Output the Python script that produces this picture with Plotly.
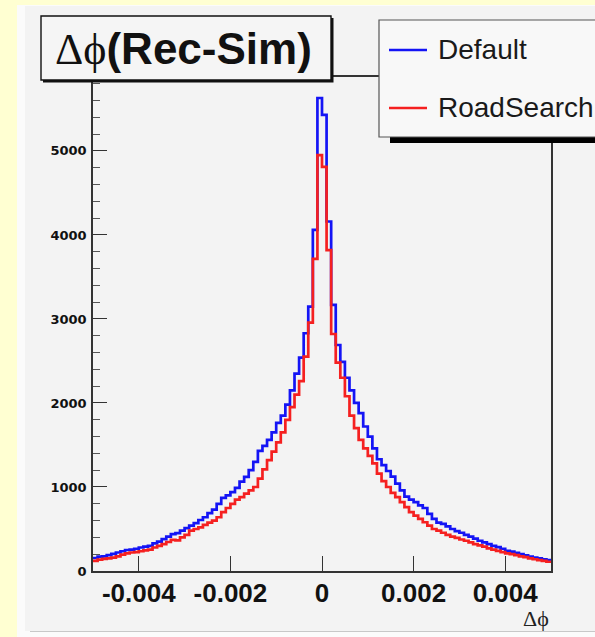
import numpy as np
import plotly.graph_objects as go

# ---------------- data ----------------
x_min, x_max = -0.005, 0.005
n_bins = 100
series_names = ["Default", "RoadSearch"]
series_colors = ["#1414F5", "#F52020"]

default_left = [155, 170, 175, 190, 205, 220, 235, 250, 255, 265,
                280, 289, 300, 330, 350, 380, 410, 440, 452, 480,
                510, 540, 570, 607, 640, 690, 730, 800, 870, 900,
                940, 990, 1063, 1120, 1200, 1300, 1430, 1490, 1560, 1650,
                1762, 1850, 1980, 2150, 2350, 2540, 2830, 3146, 4060, 5630]
default_right = [5430, 4160, 3167, 2690, 2490, 2300, 2150, 2000, 1880, 1720,
                 1599, 1460, 1330, 1260, 1190, 1123, 1040, 960, 885, 850,
                 820, 780, 750, 680, 620, 575, 560, 530, 500, 475,
                 455, 430, 410, 385, 360, 340, 320, 300, 285, 265,
                 240, 230, 215, 200, 185, 170, 160, 150, 140, 130]
road_left = [120, 135, 145, 150, 160, 175, 195, 210, 220, 225,
             235, 245, 255, 280, 300, 320, 345, 370, 365, 400,
             430, 480, 500, 520, 550, 575, 600, 640, 700, 750,
             800, 850, 880, 920, 960, 1000, 1100, 1210, 1320, 1420,
             1530, 1650, 1800, 1950, 2100, 2260, 2551, 2956, 3714, 4950]
road_right = [4810, 3820, 2821, 2480, 2300, 2080, 1850, 1700, 1560, 1460,
              1370, 1280, 1160, 1070, 1000, 930, 880, 820, 760, 700,
              660, 620, 580, 540, 500, 480, 455, 430, 410, 395,
              375, 360, 340, 320, 305, 290, 270, 255, 240, 225,
              210, 200, 190, 175, 165, 150, 140, 130, 120, 110]

x_tick_vals = [-0.004, -0.002, 0, 0.002, 0.004]
x_tick_text = ["-0.004", "-0.002", "0", "0.002", "0.004"]
y_tick_vals = [0, 1000, 2000, 3000, 4000, 5000]
y_tick_text = ["0", "1000", "2000", "3000", "4000", "5000"]
title_text = ("<span style='font-family:Liberation Serif'>Δϕ</span>"
              "<b>(Rec-Sim)</b>")
x_title = "Δϕ"

counts = [default_left + default_right, road_left + road_right]

# ---------------- layout geometry (pixels) ----------------
W_PAGE, H_PAGE = 595, 637
L, R, T, B = 93, 551, 77, 571
PW, PH = R - L, B - T


def px(x):
    return (x - L) / PW


def py(y):
    return (B - y) / PH


edges = np.linspace(x_min, x_max, n_bins + 1)

fig = go.Figure()
for name, color, c in zip(series_names, series_colors, counts):
    fig.add_trace(go.Scatter(
        x=edges, y=list(c) + [c[-1]], mode="lines", name=name,
        line=dict(color=color, width=2.7, shape="hv"), showlegend=False,
        hoverinfo="skip"))

shapes = []
# page panels
shapes.append(dict(type="rect", xref="paper", yref="paper", layer="below",
                   x0=px(17), x1=px(600), y0=py(5), y1=py(640),
                   fillcolor="#FBFBFB", line=dict(width=0)))
shapes.append(dict(type="rect", xref="paper", yref="paper", layer="below",
                   x0=px(25), x1=px(600), y0=py(6), y1=py(631),
                   fillcolor="#F3F3F3", line=dict(width=0)))
shapes.append(dict(type="line", xref="paper", yref="paper", layer="below",
                   x0=px(30), x1=px(600), y0=py(631.5), y1=py(631.5),
                   line=dict(color="#C8C8C8", width=1.2)))
# title box with shadow
shapes.append(dict(type="rect", xref="paper", yref="paper", layer="above",
                   x0=px(43), x1=px(333.5), y0=py(18), y1=py(82.5),
                   fillcolor="#111111", line=dict(width=0)))
shapes.append(dict(type="rect", xref="paper", yref="paper", layer="above",
                   x0=px(41), x1=px(331), y0=py(16), y1=py(80),
                   fillcolor="#F5F5F5", line=dict(color="#111111", width=1.4)))
# legend box with shadow
shapes.append(dict(type="rect", xref="paper", yref="paper", layer="above",
                   x0=px(390), x1=px(605), y0=py(130), y1=py(143),
                   fillcolor="#000000", line=dict(width=0)))
shapes.append(dict(type="rect", xref="paper", yref="paper", layer="above",
                   x0=px(379), x1=px(605), y0=py(20), y1=py(137),
                   fillcolor="#F8F8F8", line=dict(color="#555555", width=1.2)))

annotations = []
legend_rows = [50, 108]
for name, color, yy in zip(series_names, series_colors, legend_rows):
    shapes.append(dict(type="line", xref="paper", yref="paper", layer="above",
                       x0=px(389), x1=px(427), y0=py(yy), y1=py(yy),
                       line=dict(color=color, width=2.6)))
    annotations.append(dict(xref="paper", yref="paper", x=px(436), y=py(yy),
                            xanchor="left", yanchor="middle", showarrow=False,
                            text=name,
                            font=dict(family="Liberation Sans", size=28,
                                      color="#1A1A1A")))

annotations.append(dict(xref="paper", yref="paper", x=px(183), y=py(49),
                        xanchor="center", yanchor="middle", showarrow=False,
                        text=title_text,
                        font=dict(family="Liberation Sans", size=44,
                                  color="#111111")))
annotations.append(dict(xref="paper", yref="paper", x=px(551), y=py(618),
                        xanchor="right", yanchor="middle", showarrow=False,
                        text=x_title,
                        font=dict(family="Liberation Serif", size=22,
                                  color="#222222")))

fig.update_layout(
    width=W_PAGE, height=H_PAGE,
    margin=dict(l=L, r=W_PAGE - R, t=T, b=H_PAGE - B, pad=0),
    paper_bgcolor="#FFFFD2", plot_bgcolor="#F3F3F3",
    shapes=shapes, annotations=annotations, showlegend=False,
    xaxis=dict(range=[x_min, x_max], tickvals=x_tick_vals,
               ticktext=x_tick_text, ticks="inside", ticklen=15,
               tickwidth=1.3, tickcolor="#333333", showgrid=False,
               zeroline=False, showline=True, mirror=True,
               linecolor="#333333", linewidth=1.5, ticklabelstandoff=-2,
               tickfont=dict(family="Liberation Sans", size=26,
                             color="#111111", weight="bold")),
    yaxis=dict(range=[0, 5880], tickvals=y_tick_vals, ticktext=y_tick_text,
               ticks="inside", ticklen=14, tickwidth=1.3,
               tickcolor="#333333", showgrid=False, zeroline=False,
               showline=True, mirror=True, linecolor="#333333",
               linewidth=1.5, ticklabelstandoff=2,
               minor=dict(dtick=200, ticks="inside", ticklen=7,
                          tickcolor="#555555", tickwidth=1, showgrid=False),
               tickfont=dict(family="DejaVu Sans", size=13,
                             color="#111111", weight="bold")),
)

fig.write_html("out.html")
